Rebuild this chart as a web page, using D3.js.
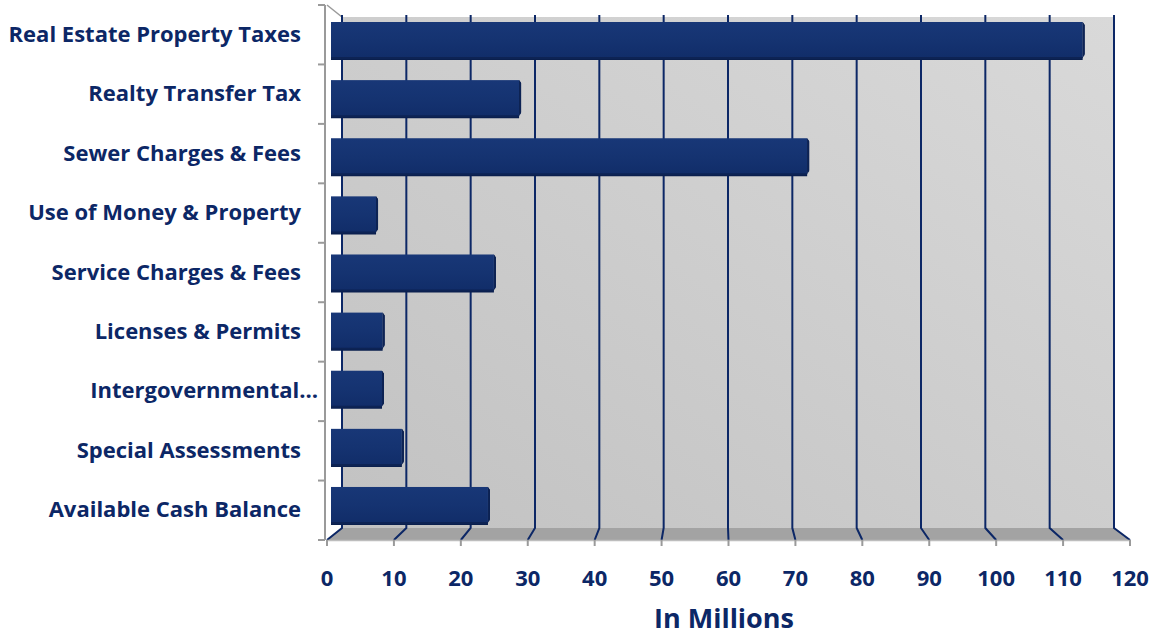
<!DOCTYPE html>
<html><head><meta charset="utf-8">
<script src="https://cdn.jsdelivr.net/npm/d3@7"></script>
<style>html,body{margin:0;padding:0;background:#fff;}svg{display:block;}</style>
</head><body>
<svg id="c" width="1156" height="635"></svg>
<script>
const categories = ["Real Estate Property Taxes","Realty Transfer Tax","Sewer Charges & Fees","Use of Money & Property","Service Charges & Fees","Licenses & Permits","Intergovernmental…","Special Assessments","Available Cash Balance"];
const values = [113.5, 28.4, 71.9, 6.8, 24.6, 7.8, 7.7, 10.7, 23.7];
const tickValues = [0,10,20,30,40,50,60,70,80,90,100,110,120];
const axisTitle = "In Millions";

const svg = d3.select("#c");
const navy = "#0c2766";
const font = "'Open Sans', Lato, sans-serif";

const xF = d3.scaleLinear().domain([0,120]).range([327,1130]);
const xB = d3.scaleLinear().domain([0,120]).range([342,1114]);
const xBar = d3.scaleLinear().domain([0,120]).range([331,1125.7]);
const yF = d3.scaleBand().domain(categories).range([5,540]);
const yBar = d3.scaleBand().domain(categories).range([22,523]).paddingInner(0.38).paddingOuter(0);
const wallTop = 17, wallBot = 528, floorFront = 540;

const defs = svg.append("defs");
const wg = defs.append("linearGradient").attr("id","wall").attr("x1","0").attr("y1","1").attr("x2","1").attr("y2","0");
wg.append("stop").attr("offset","0").attr("stop-color","#c2c2c2");
wg.append("stop").attr("offset","1").attr("stop-color","#d9d9d9");
const bg = defs.append("linearGradient").attr("id","bar").attr("x1","0").attr("y1","0").attr("x2","0").attr("y2","1");
bg.append("stop").attr("offset","0").attr("stop-color","#183777");
bg.append("stop").attr("offset","0.5").attr("stop-color","#153371");
bg.append("stop").attr("offset","1").attr("stop-color","#112d69");

svg.append("rect").attr("x",xB(0)).attr("y",wallTop).attr("width",xB(120)-xB(0)).attr("height",wallBot-wallTop).attr("fill","url(#wall)");
svg.append("path").attr("d",`M${xF(0)},${floorFront} L${xB(0)},${wallBot} L${xB(120)},${wallBot} L${xF(120)},${floorFront} Z`).attr("fill","#a3a3a3");
svg.append("line").attr("x1",327).attr("y1",5).attr("x2",xB(0)).attr("y2",wallTop).attr("stroke","#9a9a9a").attr("stroke-width",1.5);

const g = svg.append("g");
tickValues.forEach(v=>{
  g.append("path").attr("d",`M${xB(v)},${wallTop-2} L${xB(v)},${wallBot} L${xF(v)},${floorFront}`)
   .attr("fill","none").attr("stroke",navy).attr("stroke-width",2);
});

svg.append("line").attr("x1",xF(0)).attr("x2",xF(120)).attr("y1",floorFront+0.5).attr("y2",floorFront+0.5).attr("stroke","#bdbdbd").attr("stroke-width",1.5);
tickValues.forEach(v=>{
  svg.append("line").attr("x1",xF(v)).attr("x2",xF(v)).attr("y1",floorFront).attr("y2",floorFront+6).attr("stroke","#9a9a9a").attr("stroke-width",2);
});

svg.append("line").attr("x1",325).attr("x2",325).attr("y1",5).attr("y2",floorFront).attr("stroke","#9a9a9a").attr("stroke-width",2);
const bounds = categories.map(c=>yF(c)).concat([yF.range()[1]]);
bounds.forEach(y=>{
  svg.append("line").attr("x1",318).attr("x2",325).attr("y1",y).attr("y2",y).attr("stroke","#9a9a9a").attr("stroke-width",2);
});

const bars = svg.append("g");
categories.forEach((c,i)=>{
  const x0 = xBar(0), x1 = xBar(values[i]), y0 = yBar(c), h = yBar.bandwidth();
  bars.append("path").attr("d",`M${x0},${y0+h} L${x1-2},${y0+h} L${x1+2},${y0+h-4} L${x1+2},${y0+3} L${x1},${y0} L${x1},${y0+h+2} L${x0},${y0+h+2} Z`)
    .attr("fill","#0a1f4d");
  bars.append("rect").attr("x",x0).attr("y",y0).attr("width",x1-x0).attr("height",h).attr("fill","url(#bar)");
  bars.append("path").attr("d",`M${x1},${y0} L${x1+2},${y0+3} L${x1+2},${y0+h-3} L${x1-1},${y0+h+1} L${x0},${y0+h+1} L${x0},${y0+h-1} L${x1},${y0+h-1} Z`).attr("fill","#0d2354");
});

categories.forEach((c,i)=>{
  const isTrunc = c.endsWith("…");
  svg.append("text").attr("x", isTrunc?318:301).attr("y",yF(c)+yF.bandwidth()/2-2)
    .attr("text-anchor","end").attr("dominant-baseline","central")
    .attr("font-family",font).attr("font-weight",700).attr("font-size",22).attr("fill",navy).text(c);
});

tickValues.forEach(v=>{
  svg.append("text").attr("x",xF(v)).attr("y",577).attr("text-anchor","middle").attr("dominant-baseline","central")
    .attr("font-family",font).attr("font-weight",700).attr("font-size",22).attr("fill",navy).text(v);
});
svg.append("text").attr("x",724).attr("y",617).attr("text-anchor","middle").attr("dominant-baseline","central")
  .attr("font-family",font).attr("font-weight",700).attr("font-size",27).attr("fill",navy).text(axisTitle);
</script>
</body></html>
